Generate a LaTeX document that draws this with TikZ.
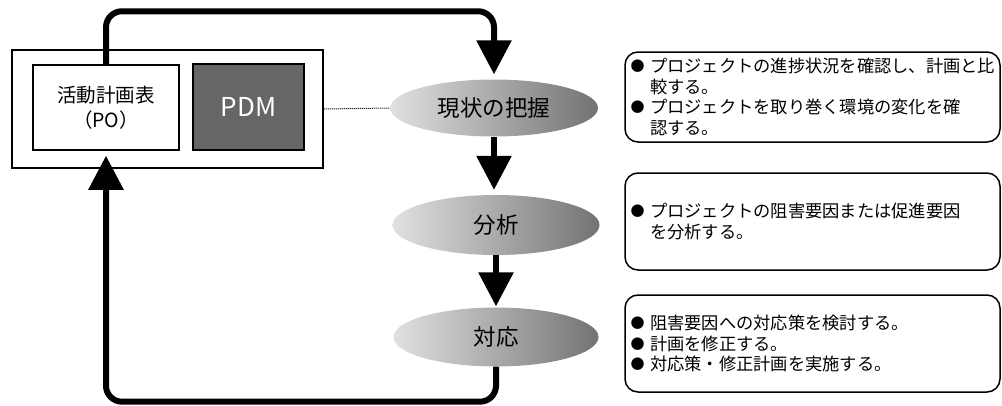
\documentclass[tikz,border=0pt]{standalone}
\usepackage{fontspec}
\setmainfont{Noto Sans CJK JP}
\usetikzlibrary{arrows.meta,shapes.geometric}
\newcommand\bulletmark{\makebox[22.5pt][l]{\hspace{3pt}\raisebox{1pt}{\fontsize{14}{14}\selectfont●}}}
\newcommand\bulletgap{\hspace*{22.5pt}}
\begin{document}
\begin{tikzpicture}[x=1pt,y=-1pt,
  frame/.style={draw, line width=1.5pt, inner sep=0pt},
  stage/.style={ellipse, inner sep=0pt, left color=black!12, middle color=white, right color=black!55, font=\fontsize{22.5}{23}\selectfont},
  loopline/.style={line width=6pt, rounded corners=16pt, shorten >=5pt, -{Triangle[length=34pt,width=34pt]}},
  flow/.style={line width=6pt, -{Triangle[length=34pt,width=34pt]}},
  note/.style={draw, line width=1.5pt, rounded corners=13pt, align=left, text width=370pt, inner xsep=2.5pt, font=\fontsize{17.25}{20.5}\selectfont}
]
\useasboundingbox (0,0) rectangle (1002,405);

\node[frame, minimum width=311pt, minimum height=118pt] (outer) at (167.5,109) {};
\node[frame, minimum width=146pt, minimum height=85pt, align=center, font=\fontsize{19.5}{25}\selectfont] (plan) at (106,107.5) {活動計画表\\（PO）};
\node[frame, fill=black!60, minimum width=111pt, minimum height=86pt, text=white, font=\fontsize{26}{26}\selectfont] (pdm) at (248.5,107) {PDM};

\node[stage, minimum width=208pt, minimum height=57pt] (e1) at (494,108) {現状の把握};
\node[stage, minimum width=207pt, minimum height=60pt] (e2) at (496,225) {分析};
\node[stage, minimum width=205pt, minimum height=59pt] (e3) at (496,337) {対応};

\draw[line width=1pt, densely dotted] (outer.east) -- (e1.west);

\draw[loopline] (plan.north) -- ++(0,-53) -| (e1.north);
\draw[flow, shorten >=5pt] (e1.south) -- (e1.south |- e2.north);
\draw[flow, shorten >=1pt] (e2.south) -- (e2.south |- e3.north);
\draw[loopline] (e3.south) -- ++(0,35) -| (plan.south);

\node[note, minimum height=90pt] (n1) at (812.5,97) {\bulletmark プロジェクトの進捗状況を確認し、計画と比\\\bulletgap 較する。\\\bulletmark プロジェクトを取り巻く環境の変化を確\\\bulletgap 認する。};
\node[note, minimum height=97pt] (n2) at (812.5,221.5) {\bulletmark プロジェクトの阻害要因または促進要因\\\bulletgap を分析する。};
\node[note, minimum height=97pt] (n3) at (812.5,343.5) {\bulletmark 阻害要因への対応策を検討する。\\\bulletmark 計画を修正する。\\\bulletmark 対応策・修正計画を実施する。};
\end{tikzpicture}
\end{document}
